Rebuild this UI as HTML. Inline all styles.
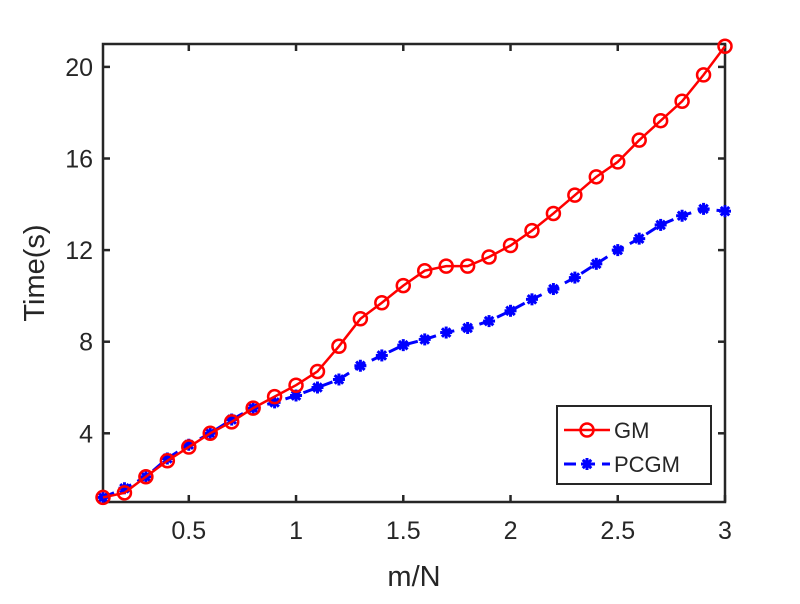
<!DOCTYPE html>
<html><head><meta charset="utf-8"><style>
body{margin:0;background:#fff;width:800px;height:599px;overflow:hidden}
svg text{font-family:"Liberation Sans",Arial,sans-serif;fill:#262626}
</style></head><body>
<svg id="chart" width="800" height="599" xmlns="http://www.w3.org/2000/svg"></svg>
<script>
const xs = [0.1,0.2,0.3,0.4,0.5,0.6,0.7,0.8,0.9,1.0,1.1,1.2,1.3,1.4,1.5,1.6,1.7,1.8,1.9,2.0,2.1,2.2,2.3,2.4,2.5,2.6,2.7,2.8,2.9,3.0];
const gm = [1.2,1.4,2.1,2.8,3.4,4.0,4.5,5.1,5.6,6.1,6.7,7.8,9.0,9.7,10.45,11.1,11.3,11.3,11.7,12.2,12.85,13.6,14.4,15.2,15.85,16.8,17.65,18.5,19.65,20.9];
const pcgm = [1.2,1.6,2.1,2.9,3.5,4.0,4.6,5.1,5.35,5.65,6.0,6.35,6.95,7.4,7.85,8.1,8.4,8.6,8.9,9.35,9.85,10.3,10.8,11.4,12.0,12.5,13.1,13.5,13.8,13.7];
const xTicks = [0.5,1,1.5,2,2.5,3];
const xTickLabels = ["0.5","1","1.5","2","2.5","3"];
const yTicks = [4,8,12,16,20];
const yTickLabels = ["4","8","12","16","20"];

const L=103,R=725,T=44,B=502,xMin=0.1,xMax=3,yMin=1,yMax=21;
const X=v=>L+(v-xMin)/(xMax-xMin)*(R-L);
const Y=v=>B-(v-yMin)/(yMax-yMin)*(B-T);
const svg=document.getElementById('chart');
const NS='http://www.w3.org/2000/svg';
function mk(tag,attrs,parent){const e=document.createElementNS(NS,tag);for(const k in attrs)e.setAttribute(k,attrs[k]);(parent||svg).appendChild(e);return e;}

const frame=mk('rect',{x:L,y:T,width:R-L,height:B-T,fill:'#fff',stroke:'#262626','stroke-width':2.5});



xTicks.forEach((t,i)=>{
  const x=X(t);
  mk('line',{x1:x,x2:x,y1:B,y2:B-7,stroke:'#262626','stroke-width':2.5});
  mk('line',{x1:x,x2:x,y1:T,y2:T+7,stroke:'#262626','stroke-width':2.5});
  const tx=mk('text',{x:x,y:B+37,'text-anchor':'middle','font-size':25});
  tx.textContent=xTickLabels[i];
  
  
});
yTicks.forEach((t,i)=>{
  const y=Y(t);
  mk('line',{x1:L,x2:L+7,y1:y,y2:y,stroke:'#262626','stroke-width':2.5});
  mk('line',{x1:R,x2:R-7,y1:y,y2:y,stroke:'#262626','stroke-width':2.5});
  const tx=mk('text',{x:L-10,y:y+9,'text-anchor':'end','font-size':25});
  tx.textContent=yTickLabels[i];
  
  
});
const xl=mk('text',{x:414,y:586,'text-anchor':'middle','font-size':29});
xl.textContent='m/N';


const yl=mk('text',{x:0,y:0,'text-anchor':'middle','font-size':29,transform:'translate(44,273) rotate(-90)'});
yl.textContent='Time(s)';



function star(g,cx,cy,r){
  for(let k=0;k<4;k++){const a=k*Math.PI/4;
    mk('line',{x1:cx-r*Math.cos(a),y1:cy-r*Math.sin(a),x2:cx+r*Math.cos(a),y2:cy+r*Math.sin(a),stroke:'#0000ff','stroke-width':3},g);}
}
const gp=mk('g',{});


mk('polyline',{points:xs.map((x,i)=>X(x)+','+Y(pcgm[i])).join(' '),fill:'none',stroke:'#0000ff','stroke-width':3,'stroke-dasharray':'12,7'},gp);
xs.forEach((x,i)=>star(gp,X(x),Y(pcgm[i]),6));
const gg=mk('g',{});


mk('polyline',{points:xs.map((x,i)=>X(x)+','+Y(gm[i])).join(' '),fill:'none',stroke:'#ff0000','stroke-width':2.5},gg);
xs.forEach((x,i)=>mk('circle',{cx:X(x),cy:Y(gm[i]),r:6.5,fill:'none',stroke:'#ff0000','stroke-width':2.5},gg));

const lg=mk('g',{});


mk('rect',{x:557,y:406,width:154,height:78,fill:'#fff',stroke:'#262626','stroke-width':2},lg);
mk('line',{x1:564,x2:610,y1:430,y2:430,stroke:'#ff0000','stroke-width':2.5},lg);
mk('circle',{cx:587,cy:430,r:6.5,fill:'none',stroke:'#ff0000','stroke-width':2.5},lg);
const t1=mk('text',{x:614,y:438,'font-size':22},lg);t1.textContent='GM';


mk('line',{x1:564,x2:610,y1:464,y2:464,stroke:'#0000ff','stroke-width':3,'stroke-dasharray':'12,7'},lg);
star(lg,587,464,6);
const t2=mk('text',{x:614,y:472,'font-size':22},lg);t2.textContent='PCGM';


</script>
</body></html>
